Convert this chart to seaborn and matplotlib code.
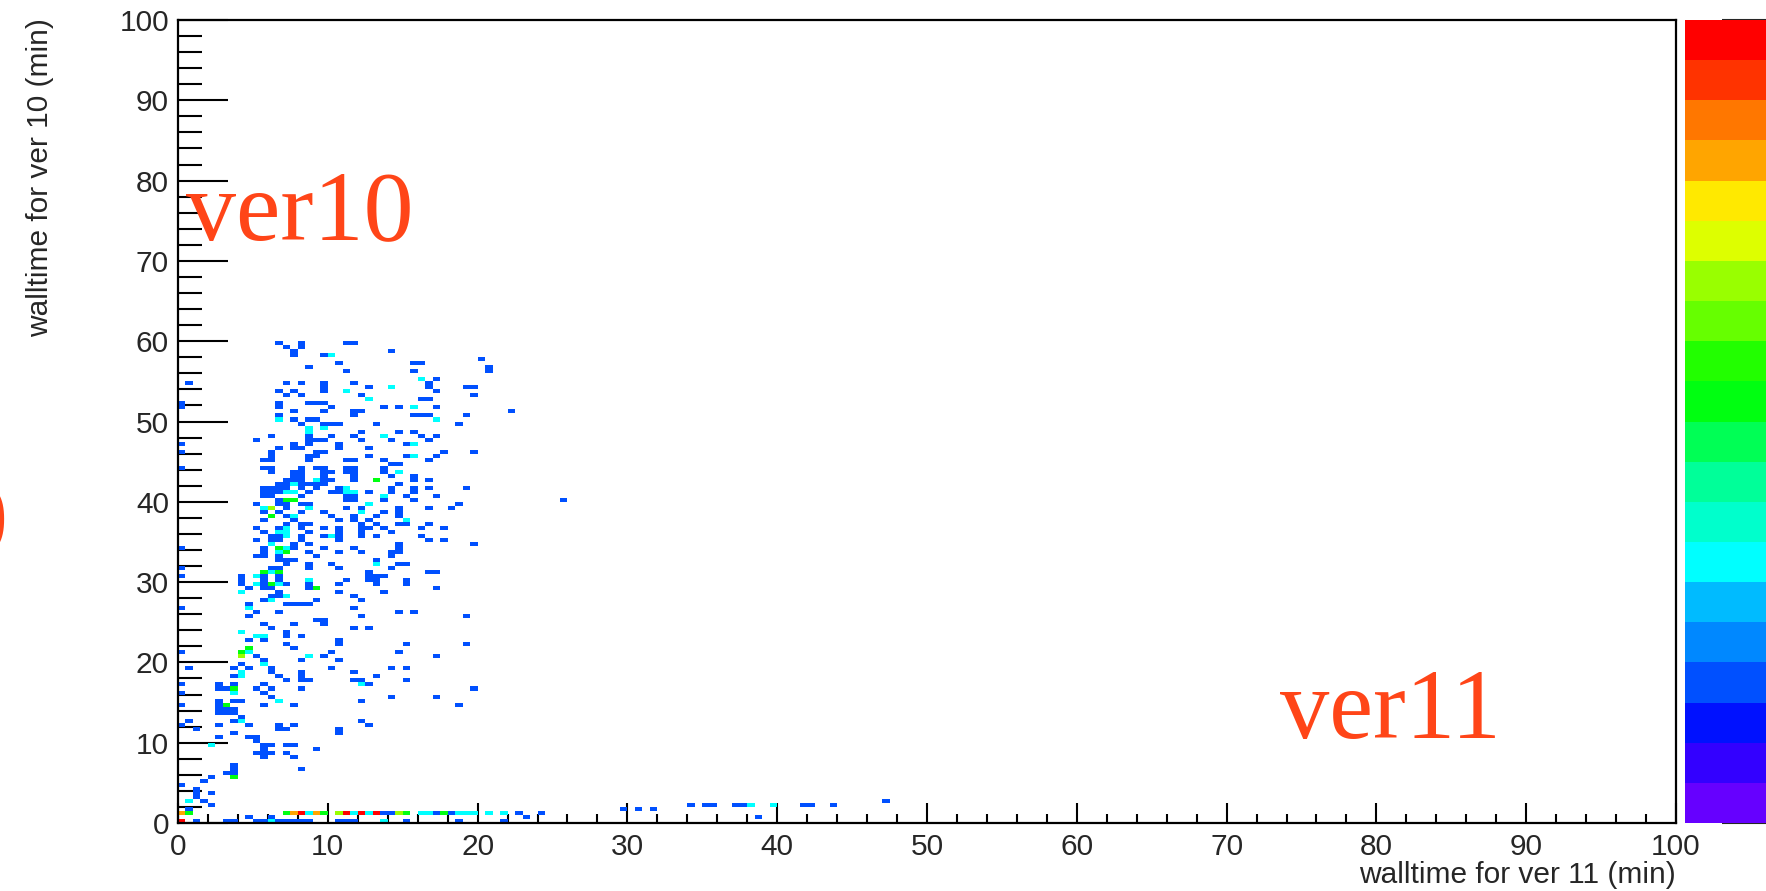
import numpy as np
import matplotlib
matplotlib.use("Agg")
import matplotlib.pyplot as plt
from matplotlib.colors import ListedColormap
from matplotlib.ticker import MultipleLocator
import seaborn as sns

# Job wall-clock times (minutes) in 0.5-minute bins: (ver 11, ver 10) bin centres,
# grouped by the number of jobs that fall into the bin.
cells_n1 = [
    (6.75, 59.75), (8.25, 59.75), (11.25, 59.75), (11.75, 59.75),
    (7.25, 59.25), (8.25, 59.25),
    (7.75, 58.75), (14.25, 58.75),
    (7.75, 58.25), (9.75, 58.25),
    (20.25, 57.75),
    (10.75, 57.25), (15.75, 57.25), (16.25, 57.25),
    (8.75, 56.75), (20.75, 56.75),
    (11.25, 56.25), (15.75, 56.25), (20.75, 56.25),
    (17.25, 55.25),
    (0.75, 54.75), (7.25, 54.75), (8.25, 54.75), (9.75, 54.75), (11.75, 54.75), (16.75, 54.75),
    (9.75, 54.25), (12.75, 54.25), (16.75, 54.25), (19.25, 54.25), (19.75, 54.25),
    (6.75, 53.75), (7.75, 53.75), (9.75, 53.75), (17.25, 53.75),
    (7.25, 53.25), (8.25, 53.25), (12.25, 53.25), (19.75, 53.25),
    (16.25, 52.75), (16.75, 52.75),
    (0.25, 52.25), (6.75, 52.25), (8.75, 52.25), (9.25, 52.25), (9.75, 52.25),
    (0.25, 51.75), (6.75, 51.75), (10.25, 51.75), (13.75, 51.75), (14.75, 51.75), (17.25, 51.75),
    (7.75, 51.25), (9.75, 51.25), (11.75, 51.25), (12.25, 51.25), (22.25, 51.25),
    (6.75, 50.75), (11.75, 50.75), (15.75, 50.75), (16.25, 50.75), (16.75, 50.75), (19.25, 50.75),
    (7.75, 50.25), (8.75, 50.25), (9.25, 50.25),
    (8.25, 49.75), (9.75, 49.75), (10.25, 49.75), (10.75, 49.75), (13.25, 49.75), (18.75, 49.75),
    (12.25, 48.75), (14.75, 48.75), (15.75, 48.75),
    (6.25, 48.25), (8.75, 48.25), (10.25, 48.25), (11.75, 48.25), (16.25, 48.25), (17.25, 48.25),
    (5.25, 47.75), (8.75, 47.75), (9.25, 47.75), (9.75, 47.75), (12.25, 47.75), (14.25, 47.75), (16.75, 47.75),
    (0.25, 47.25), (7.75, 47.25), (8.75, 47.25), (10.75, 47.25), (15.25, 47.25),
    (6.75, 46.75), (7.75, 46.75), (8.25, 46.75), (10.75, 46.75), (12.75, 46.75),
    (0.25, 46.25), (6.25, 46.25), (9.25, 46.25), (9.75, 46.25), (17.75, 46.25), (19.75, 46.25),
    (6.25, 45.75), (8.75, 45.75), (9.25, 45.75), (12.75, 45.75), (15.25, 45.75), (17.25, 45.75),
    (5.75, 45.25), (6.25, 45.25), (8.75, 45.25), (11.25, 45.25), (11.75, 45.25), (13.75, 45.25), (16.75, 45.25),
    (14.25, 44.75), (14.75, 44.75),
    (0.25, 44.25), (5.75, 44.25), (6.25, 44.25), (8.25, 44.25), (9.25, 44.25), (9.75, 44.25),
    (11.25, 44.25), (11.75, 44.25), (13.75, 44.25),
    (6.25, 43.75), (7.75, 43.75), (8.25, 43.75), (9.75, 43.75), (10.25, 43.75), (11.25, 43.75),
    (11.75, 43.75), (13.75, 43.75),
    (7.75, 43.25), (8.25, 43.25), (9.75, 43.25), (11.75, 43.25), (14.25, 43.25), (15.75, 43.25),
    (7.25, 42.75), (7.75, 42.75), (8.25, 42.75), (9.75, 42.75), (10.25, 42.75), (11.75, 42.75),
    (15.75, 42.75), (16.75, 42.75),
    (6.75, 42.25), (7.25, 42.25), (8.25, 42.25), (8.75, 42.25), (9.25, 42.25), (9.75, 42.25), (14.75, 42.25),
    (5.75, 41.75), (6.25, 41.75), (6.75, 41.75), (7.25, 41.75), (8.25, 41.75), (9.25, 41.75),
    (10.75, 41.75), (14.25, 41.75), (15.75, 41.75), (16.75, 41.75), (19.25, 41.75),
    (5.75, 41.25), (6.25, 41.25), (6.75, 41.25), (8.75, 41.25), (10.25, 41.25), (10.75, 41.25),
    (12.75, 41.25), (14.25, 41.25), (15.75, 41.25),
    (5.75, 40.75), (6.25, 40.75), (8.25, 40.75), (11.25, 40.75), (11.75, 40.75), (15.25, 40.75), (17.25, 40.75),
    (6.75, 40.25), (11.25, 40.25), (11.75, 40.25), (13.75, 40.25), (15.75, 40.25), (25.75, 40.25),
    (5.25, 39.75), (6.75, 39.75), (7.25, 39.75), (8.25, 39.75), (8.75, 39.75), (18.75, 39.75),
    (7.25, 39.25), (11.25, 39.25), (12.25, 39.25), (14.75, 39.25), (16.75, 39.25), (18.25, 39.25),
    (5.75, 38.75), (6.75, 38.75), (8.25, 38.75), (9.75, 38.75), (13.75, 38.75), (14.75, 38.75),
    (7.25, 38.25), (10.25, 38.25), (11.75, 38.25), (13.25, 38.25), (14.75, 38.25),
    (5.75, 37.75), (7.75, 37.75), (10.75, 37.75), (11.75, 37.75), (12.75, 37.75),
    (7.25, 37.25), (8.25, 37.25), (8.75, 37.25), (12.25, 37.25), (13.25, 37.25), (14.75, 37.25),
    (15.25, 37.25), (16.75, 37.25),
    (5.25, 36.75), (6.75, 36.75), (8.25, 36.75), (9.75, 36.75), (10.75, 36.75), (12.25, 36.75),
    (12.75, 36.75), (13.75, 36.75), (16.25, 36.75), (17.75, 36.75),
    (5.75, 36.25), (8.75, 36.25), (10.75, 36.25), (12.25, 36.25), (14.25, 36.25),
    (6.25, 35.75), (6.75, 35.75), (8.25, 35.75), (9.75, 35.75), (10.75, 35.75), (12.25, 35.75),
    (13.25, 35.75), (16.25, 35.75),
    (5.25, 35.25), (6.25, 35.25), (6.75, 35.25), (8.25, 35.25), (10.75, 35.25), (16.75, 35.25), (17.75, 35.25),
    (7.75, 34.75), (8.75, 34.75), (14.75, 34.75), (19.75, 34.75),
    (0.25, 34.25), (5.75, 34.25), (7.75, 34.25), (9.75, 34.25), (11.75, 34.25), (14.75, 34.25),
    (5.75, 33.75), (8.75, 33.75), (10.75, 33.75), (12.25, 33.75), (14.25, 33.75), (14.75, 33.75),
    (5.25, 33.25), (5.75, 33.25), (6.75, 33.25), (9.25, 33.25), (14.25, 33.25),
    (6.75, 32.75), (7.25, 32.75), (7.75, 32.75), (13.25, 32.75),
    (7.25, 32.25), (8.75, 32.25), (10.25, 32.25), (14.75, 32.25), (15.25, 32.25),
    (0.25, 31.75), (6.25, 31.75), (6.75, 31.75), (8.75, 31.75), (10.75, 31.75), (14.25, 31.75),
    (12.75, 31.25), (16.75, 31.25), (17.25, 31.25),
    (0.25, 30.75), (4.25, 30.75), (5.75, 30.75), (6.75, 30.75), (12.75, 30.75), (13.25, 30.75), (13.75, 30.75),
    (4.25, 30.25), (5.75, 30.25), (6.75, 30.25), (11.25, 30.25), (12.75, 30.25), (13.25, 30.25), (15.25, 30.25),
    (4.25, 29.75), (5.75, 29.75), (7.25, 29.75), (8.75, 29.75), (10.75, 29.75), (13.25, 29.75), (15.25, 29.75),
    (4.75, 29.25), (5.75, 29.25), (6.25, 29.25), (8.75, 29.25), (17.25, 29.25),
    (6.75, 28.75), (10.75, 28.75), (13.75, 28.75),
    (6.25, 28.25), (6.75, 28.25), (11.75, 28.25),
    (5.75, 27.75), (9.25, 27.75), (12.25, 27.75),
    (4.75, 27.25), (7.25, 27.25), (7.75, 27.25), (8.25, 27.25), (8.75, 27.25),
    (0.25, 26.75), (11.75, 26.75),
    (5.25, 26.25), (6.75, 26.25), (14.75, 26.25), (15.75, 26.25),
    (4.75, 25.75), (12.25, 25.75), (19.25, 25.75),
    (9.25, 25.25), (9.75, 25.25),
    (5.75, 24.75), (7.75, 24.75), (9.75, 24.75),
    (6.25, 24.25), (11.75, 24.25), (12.75, 24.25),
    (7.25, 23.75),
    (7.25, 23.25), (8.25, 23.25),
    (4.75, 22.75), (5.75, 22.75), (10.75, 22.75),
    (7.25, 22.25), (10.75, 22.25), (15.25, 22.25), (19.25, 22.25),
    (7.75, 21.75),
    (0.25, 21.25), (10.25, 21.25), (14.75, 21.25),
    (5.25, 20.75), (9.75, 20.75), (17.25, 20.75),
    (5.75, 20.25), (8.25, 20.25), (10.75, 20.25),
    (4.25, 19.75),
    (0.75, 19.25), (3.75, 19.25), (4.75, 19.25), (6.25, 19.25), (10.25, 19.25), (14.25, 19.25), (15.25, 19.25),
    (6.25, 18.75), (8.25, 18.75), (11.75, 18.75),
    (3.75, 18.25), (6.75, 18.25), (8.25, 18.25), (13.25, 18.25),
    (7.25, 17.75), (8.25, 17.75), (8.75, 17.75), (11.75, 17.75), (12.25, 17.75), (15.25, 17.75),
    (0.25, 17.25), (2.75, 17.25), (3.75, 17.25), (5.75, 17.25), (12.75, 17.25),
    (2.75, 16.75), (3.25, 16.75), (5.25, 16.75), (6.25, 16.75), (8.25, 16.75), (19.75, 16.75),
    (0.25, 16.25), (5.75, 16.25),
    (6.25, 15.75), (14.25, 15.75), (17.25, 15.75),
    (2.75, 15.25), (3.75, 15.25), (4.25, 15.25), (12.25, 15.25),
    (0.25, 14.75), (2.75, 14.75), (5.75, 14.75), (7.75, 14.75), (18.75, 14.75),
    (2.75, 14.25), (3.25, 14.25), (3.75, 14.25),
    (2.75, 13.75), (3.25, 13.75), (3.75, 13.75),
    (4.25, 13.25),
    (0.75, 12.75), (3.75, 12.75), (12.25, 12.75),
    (0.25, 12.25), (2.75, 12.25), (4.75, 12.25), (6.75, 12.25), (7.75, 12.25), (12.75, 12.25),
    (1.25, 11.75), (6.75, 11.75), (7.25, 11.75), (10.75, 11.75),
    (3.75, 11.25), (10.75, 11.25),
    (2.75, 10.75), (4.75, 10.75), (5.25, 10.75),
    (5.25, 10.25),
    (5.75, 9.75), (6.25, 9.75), (7.25, 9.75), (7.75, 9.75),
    (5.75, 9.25), (9.25, 9.25),
    (5.25, 8.75), (5.75, 8.75), (6.25, 8.75), (7.25, 8.75),
    (5.75, 8.25), (7.75, 8.25),
    (3.75, 7.25),
    (3.75, 6.75), (8.25, 6.75),
    (3.25, 6.25), (3.75, 6.25),
    (2.25, 5.75),
    (1.75, 5.25),
    (0.25, 4.75),
    (1.25, 4.25),
    (1.25, 3.75), (2.25, 3.75),
    (1.25, 3.25),
    (1.75, 2.75), (47.25, 2.75),
    (2.25, 2.25), (34.25, 2.25), (35.25, 2.25), (35.75, 2.25), (37.25, 2.25), (37.75, 2.25),
    (41.75, 2.25), (42.25, 2.25), (43.75, 2.25),
    (0.75, 1.75), (29.75, 1.75), (30.75, 1.75), (31.75, 1.75),
    (13.75, 1.25), (14.25, 1.25), (17.25, 1.25), (18.25, 1.25), (22.75, 1.25), (24.25, 1.25),
    (4.75, 0.75), (6.25, 0.75), (23.25, 0.75), (38.75, 0.75),
    (1.25, 0.25), (3.25, 0.25), (3.75, 0.25), (5.25, 0.25), (5.75, 0.25), (6.75, 0.25), (7.25, 0.25),
    (7.75, 0.25), (8.25, 0.25), (8.75, 0.25), (10.75, 0.25), (11.25, 0.25), (11.75, 0.25),
    (15.25, 0.25), (18.75, 0.25), (21.75, 0.25),
]

cells_n2 = [
    (10.25, 58.25), (16.25, 55.25), (14.25, 54.25), (11.25, 53.75), (12.75, 52.75),
    (15.75, 51.75), (6.75, 50.25), (17.25, 50.25), (8.75, 49.25), (9.75, 49.25),
    (8.75, 48.75), (13.75, 48.25), (15.75, 47.25), (15.75, 45.75), (14.75, 43.75),
    (9.25, 42.75), (7.75, 42.25), (11.25, 41.75),
    (7.25, 41.25), (7.75, 41.25), (11.25, 41.25), (11.75, 41.25),
    (13.75, 40.75), (12.75, 39.75), (5.75, 39.25), (8.75, 39.25), (12.25, 38.75),
    (7.75, 38.25), (15.25, 37.75), (7.25, 36.75), (6.75, 36.25), (7.25, 36.25),
    (7.25, 35.75), (10.25, 35.75), (6.25, 34.75), (7.25, 34.25), (6.75, 33.75),
    (13.25, 32.25), (6.25, 31.25), (5.25, 30.75), (8.75, 30.25),
    (5.25, 29.75), (6.75, 29.75), (4.25, 28.75), (7.25, 28.25), (6.25, 27.75),
    (4.75, 26.75), (4.25, 23.75), (5.25, 23.25), (5.75, 23.25), (4.75, 21.25),
    (8.75, 20.75), (5.75, 19.75), (4.25, 18.75), (4.25, 18.25), (12.25, 17.25),
    (3.75, 16.25), (6.75, 15.25), (4.25, 12.75), (2.25, 9.75), (0.75, 2.75),
    (38.25, 2.25), (39.75, 2.25),
    (8.75, 1.25), (11.75, 1.25), (12.75, 1.25), (16.25, 1.25), (16.75, 1.25),
    (18.75, 1.25), (19.25, 1.25), (19.75, 1.25), (20.75, 1.25), (21.75, 1.25),
    (6.25, 0.25), (13.75, 0.25),
]

cells_n3 = [
    (13.25, 42.75), (7.25, 40.25), (7.75, 40.25), (6.25, 38.25), (6.75, 34.25),
    (7.25, 33.75), (5.75, 31.25), (6.75, 31.25), (6.25, 29.75), (9.25, 29.25),
    (4.75, 21.75), (4.25, 21.25), (3.75, 16.75), (3.25, 14.75), (3.75, 5.75),
    (0.75, 1.25), (7.25, 1.25), (9.75, 1.25), (15.25, 1.25), (17.75, 1.25),
]

cells_n4 = [(6.25, 39.25), (4.25, 20.75), (10.75, 1.25), (14.75, 1.25)]

cells_n5 = [(0.25, 1.25), (7.75, 1.25), (9.25, 1.25)]

cells_n6 = [(8.25, 1.25), (11.25, 1.25), (12.25, 1.25), (13.25, 1.25), (0.25, 0.25)]

# 20-level rainbow palette, violet (low) to red (high)
palette_levels = [
    "#6600ff", "#3300ff", "#0011ff", "#0050ff", "#0088ff",
    "#00bbff", "#00ffff", "#00ffcc", "#00ff99", "#00ff55",
    "#00ff11", "#22ff00", "#66ff00", "#99ff00", "#ddff00",
    "#ffe900", "#ffa500", "#ff7700", "#ff3300", "#ff0000",
]
label_red = "#ff4518"

xs, ys, ws = [], [], []
for group, n in ((cells_n1, 1), (cells_n2, 2), (cells_n3, 3),
                 (cells_n4, 4), (cells_n5, 5), (cells_n6, 6)):
    for cx, cy in group:
        xs.append(cx)
        ys.append(cy)
        ws.append(n)

sns.set_style("ticks")
plt.rcParams["font.family"] = ["Liberation Sans", "DejaVu Sans"]

W, H = 1766, 891
fig = plt.figure(figsize=(W / 100, H / 100), dpi=100)
ax = fig.add_axes([178 / W, 1 - 823 / H, 1498 / W, 803 / H])
cax = fig.add_axes([1685 / W, 1 - 823 / H, 81 / W, 803 / H])

sns.histplot(
    x=xs, y=ys, weights=ws,
    bins=200, binrange=((0, 100), (0, 100)),
    cmap=ListedColormap(palette_levels), vmin=0, vmax=6,
    cbar=True, cbar_ax=cax, ax=ax,
)

ax.set_xlim(0, 100)
ax.set_ylim(0, 100)
ax.set_xlabel("")
ax.set_ylabel("")
for axis in (ax.xaxis, ax.yaxis):
    axis.set_major_locator(MultipleLocator(10))
    axis.set_minor_locator(MultipleLocator(2))
ax.tick_params(axis="x", which="major", direction="in", length=14.5, width=1.5,
               labelsize=21.5, pad=7, bottom=True, top=False, color="black")
ax.tick_params(axis="x", which="minor", direction="in", length=6.5, width=1.5,
               bottom=True, top=False, color="black")
ax.tick_params(axis="y", which="major", direction="in", length=36, width=1.5,
               labelsize=21.5, pad=6.5, left=True, right=False, color="black")
ax.tick_params(axis="y", which="minor", direction="in", length=17.5, width=1.5,
               left=True, right=False, color="black")
for spine in ax.spines.values():
    spine.set_visible(True)
    spine.set_linewidth(1.6)
    spine.set_color("black")

cbar = ax.collections[0].colorbar
cbar.outline.set_visible(False)
cbar.set_ticks(range(7))
cax.minorticks_off()
cax.yaxis.set_ticks_position("right")
cax.tick_params(axis="y", which="major", direction="in", length=31.5, width=1.5,
                right=True, left=False, labelright=False, labelleft=False)

fig.text(1676 / W, 1 - 883 / H, "walltime for ver 11 (min)", ha="right", va="baseline",
         fontsize=21.5)
fig.text(40 / W, 1 - 18 / H, "walltime for ver 10 (min)", rotation=90, ha="center", va="top",
         fontsize=21.5)

fig.text(186 / W, 1 - 239 / H, "ver10", ha="left", va="baseline", fontsize=72,
         family=["Liberation Serif", "DejaVu Serif"], color=label_red)
fig.text(1280 / W, 1 - 738 / H, "ver11", ha="left", va="baseline", fontsize=71,
         family=["Liberation Serif", "DejaVu Serif"], color=label_red)
fig.text(7 / W, 1 - 551 / H, "0", ha="right", va="baseline", fontsize=72,
         family=["Liberation Serif", "DejaVu Serif"], color=label_red)

fig.savefig("out.png", dpi=100)
